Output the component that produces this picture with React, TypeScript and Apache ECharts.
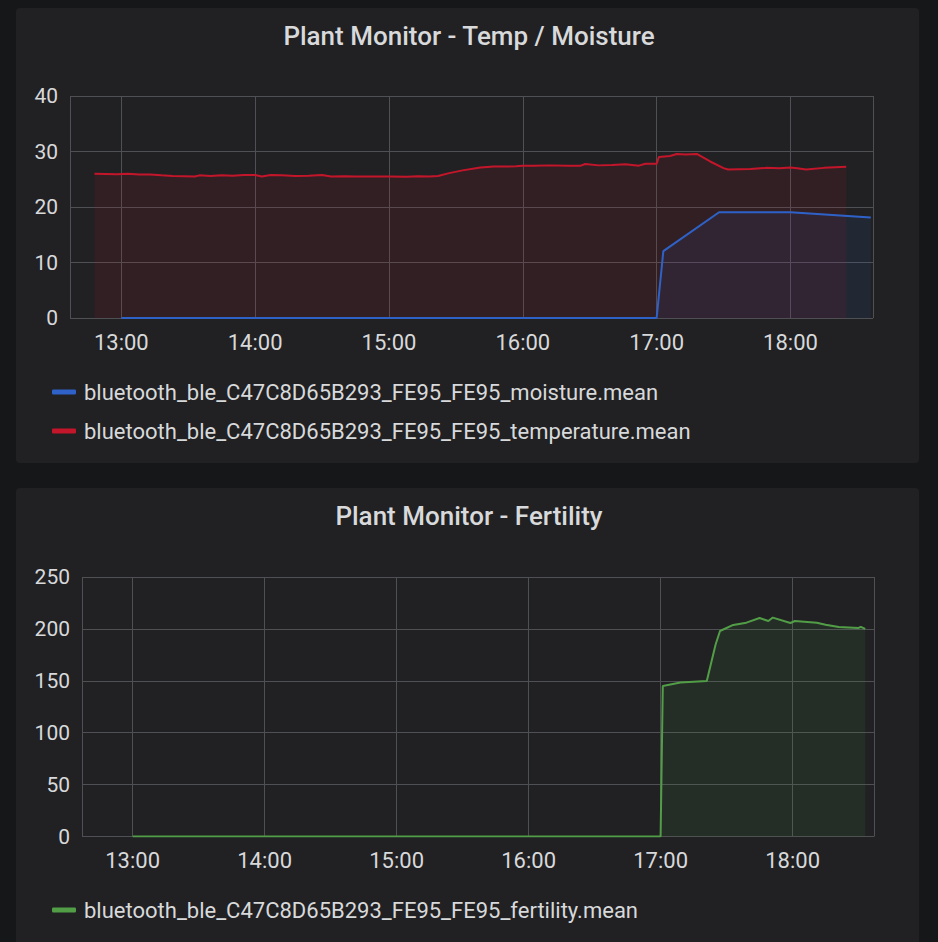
import React, { useEffect, useRef } from "react";
import * as echarts from "echarts";

// ---- Data ----
const X_WINDOW = ["12:37", "18:37"];

const MOISTURE_NAME = "bluetooth_ble_C47C8D65B293_FE95_FE95_moisture.mean";
const TEMP_NAME = "bluetooth_ble_C47C8D65B293_FE95_FE95_temperature.mean";
const FERT_NAME = "bluetooth_ble_C47C8D65B293_FE95_FE95_fertility.mean";

const TEMP_TIMES = [
  "12:48", "12:53", "12:58", "13:03", "13:08", "13:13", "13:18", "13:23", "13:28", "13:33",
  "13:35", "13:40", "13:45", "13:50", "13:55", "14:00", "14:03", "14:07", "14:12", "14:18",
  "14:24", "14:30", "14:34", "14:40", "14:45", "14:50", "15:00", "15:08", "15:13", "15:18",
  "15:22", "15:27", "15:33", "15:41", "15:47", "15:53", "15:57", "16:00", "16:05", "16:12",
  "16:20", "16:26", "16:28", "16:34", "16:40", "16:46", "16:52", "16:55", "17:00", "17:01",
  "17:06", "17:09", "17:13", "17:18", "17:24", "17:30", "17:32", "17:42", "17:49", "17:55",
  "18:00", "18:03", "18:07", "18:15", "18:20", "18:25",
];
const TEMP_VALUES = [
  26.0, 25.95, 25.9, 26.0, 25.85, 25.85, 25.7, 25.6, 25.55, 25.5,
  25.7, 25.6, 25.7, 25.65, 25.75, 25.75, 25.5, 25.75, 25.7, 25.6,
  25.65, 25.75, 25.5, 25.55, 25.5, 25.5, 25.5, 25.45, 25.55, 25.5,
  25.6, 26.1, 26.6, 27.1, 27.3, 27.3, 27.35, 27.45, 27.45, 27.5,
  27.45, 27.45, 27.75, 27.5, 27.55, 27.7, 27.45, 27.8, 27.8, 29.0,
  29.2, 29.55, 29.45, 29.55, 28.2, 27.0, 26.75, 26.85, 27.05, 27.0,
  27.1, 27.0, 26.75, 27.05, 27.15, 27.25,
];

const MOISTURE_TIMES = ["13:00", "17:00", "17:03", "17:28", "18:00", "18:36"];
const MOISTURE_VALUES = [0, 0, 12.05, 19.05, 19.05, 18.1];

const FERT_TIMES = [
  "13:00", "17:00", "17:01", "17:09", "17:21", "17:25", "17:27", "17:33", "17:39", "17:45",
  "17:49", "17:51", "17:59", "18:01", "18:11", "18:15", "18:21", "18:30", "18:31", "18:33",
];
const FERT_VALUES = [
  0, 0, 145, 148.3, 149.8, 185, 198, 203.8, 206, 210.5,
  207.6, 210.9, 205.7, 207.6, 206, 204, 201.8, 200.9, 202, 200,
];

const TOP_Y_TICKS = [0, 10, 20, 30, 40];
const BOTTOM_Y_TICKS = [0, 50, 100, 150, 200, 250];

// ---- Helpers ----
function ts(hm: string): number {
  const [h, m] = hm.split(":").map(Number);
  return new Date(2021, 0, 1, h, m, 0).getTime();
}
function pairs(times: string[], vals: number[]) {
  return times.map((t, i) => [ts(t), vals[i]]);
}
function pad(n: number) {
  return n < 10 ? "0" + n : "" + n;
}

const TEXT = "#d8d9da";
const GRID = "#4f5053";
const FONT = 'Roboto, "Helvetica Neue", Arial, sans-serif';
const RED = "#c4162a";
const BLUE = "#2f62c8";
const GREEN = "#529e47";

export default function App() {
  const ref = useRef<HTMLDivElement>(null);
  useEffect(() => {
    if (!ref.current) return;
    const chart = echarts.init(ref.current, null, { renderer: "svg" });

    const xAxisBase = (gridIndex: number) => ({
      type: "time",
      gridIndex,
      min: ts(X_WINDOW[0]),
      max: ts(X_WINDOW[1]),
      minInterval: 3600 * 1000,
      maxInterval: 3600 * 1000,
      axisLine: { show: false },
      axisTick: { show: false },
      splitLine: { show: true, lineStyle: { color: GRID, width: 1 } },
      axisLabel: {
        color: TEXT,
        fontSize: 22,
        fontFamily: FONT,
        margin: 13,
        showMinLabel: false,
        showMaxLabel: false,
        formatter: (v: number) => {
          const d = new Date(v);
          return pad(d.getHours()) + ":" + pad(d.getMinutes());
        },
      },
    });
    const yAxisBase = (gridIndex: number, ticks: number[]) => ({
      type: "value",
      gridIndex,
      min: ticks[0],
      max: ticks[ticks.length - 1],
      interval: ticks[1] - ticks[0],
      axisLine: { show: false },
      axisTick: { show: false },
      splitLine: { show: true, lineStyle: { color: GRID, width: 1 } },
      axisLabel: { color: TEXT, fontSize: 21, fontFamily: FONT, margin: 12 },
    });

    const legendText = { color: TEXT, fontSize: 22, fontFamily: FONT, lineHeight: 26, padding: [0, 0, 0, 3] };

    const option: any = {
      animation: false,
      backgroundColor: "#161719",
      textStyle: { fontFamily: FONT },
      graphic: [
        { type: "rect", shape: { x: 16, y: 8, width: 903, height: 455, r: 4 }, style: { fill: "#212124" }, z: -10 },
        { type: "rect", shape: { x: 16, y: 488, width: 903, height: 470, r: 4 }, style: { fill: "#212124" }, z: -10 },
      ],
      title: [
        {
          text: "Plant Monitor - Temp / Moisture",
          left: "center",
          top: 18,
          textStyle: { color: TEXT, fontSize: 26, fontWeight: 500, fontFamily: FONT },
        },
        {
          text: "Plant Monitor - Fertility",
          left: "center",
          top: 498,
          textStyle: { color: TEXT, fontSize: 26, fontWeight: 500, fontFamily: FONT },
        },
      ],
      legend: [
        {
          data: [MOISTURE_NAME, TEMP_NAME],
          orient: "vertical",
          left: 47,
          top: 374,
          itemWidth: 24,
          itemHeight: 5,
          itemGap: 13,
          icon: "roundRect",
          selectedMode: false,
          textStyle: legendText,
        },
        {
          data: [FERT_NAME],
          orient: "vertical",
          left: 47,
          top: 892,
          itemWidth: 24,
          itemHeight: 5,
          icon: "roundRect",
          selectedMode: false,
          textStyle: legendText,
        },
      ],
      grid: [
        { left: 70, right: 65, top: 96, height: 222 },
        { left: 82, right: 64, top: 577, height: 259.5 },
      ],
      xAxis: [xAxisBase(0), xAxisBase(1)],
      yAxis: [yAxisBase(0, TOP_Y_TICKS), yAxisBase(1, BOTTOM_Y_TICKS)],
      series: [
        {
          name: TEMP_NAME,
          type: "line",
          xAxisIndex: 0,
          yAxisIndex: 0,
          data: pairs(TEMP_TIMES, TEMP_VALUES),
          showSymbol: false,
          color: RED,
          lineStyle: { color: RED, width: 2 },
          areaStyle: { color: RED, opacity: 0.1 },
        },
        {
          name: MOISTURE_NAME,
          type: "line",
          xAxisIndex: 0,
          yAxisIndex: 0,
          data: pairs(MOISTURE_TIMES, MOISTURE_VALUES),
          showSymbol: false,
          color: BLUE,
          lineStyle: { color: BLUE, width: 2 },
          areaStyle: { color: BLUE, opacity: 0.1 },
        },
        {
          name: FERT_NAME,
          type: "line",
          xAxisIndex: 1,
          yAxisIndex: 1,
          data: pairs(FERT_TIMES, FERT_VALUES),
          showSymbol: false,
          color: GREEN,
          lineStyle: { color: GREEN, width: 2 },
          areaStyle: { color: GREEN, opacity: 0.1 },
        },
      ],
    };
    chart.setOption(option);
    return () => chart.dispose();
  }, []);

  return (
    <div
      ref={ref}
      style={{ position: "absolute", left: 0, top: 0, width: 938, height: 942 }}
    />
  );
}
